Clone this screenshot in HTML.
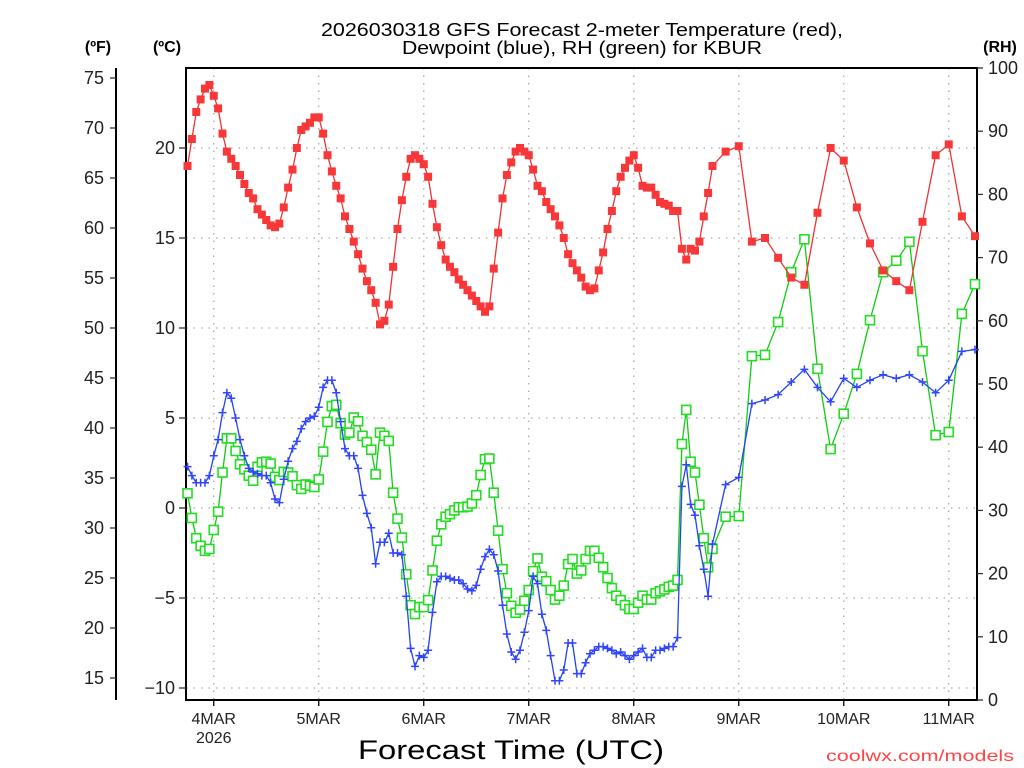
<!DOCTYPE html>
<html><head><meta charset="utf-8"><style>
html,body{margin:0;padding:0;background:#fff;}
svg{display:block;font-family:"Liberation Sans",sans-serif;}
</style></head><body>
<svg id="chart" width="1024" height="768" viewBox="0 0 1024 768" xmlns="http://www.w3.org/2000/svg">
<rect x="0" y="0" width="1024" height="768" fill="#fff"/>
<text x="582" y="36" font-size="18" text-anchor="middle" fill="#000" textLength="522" lengthAdjust="spacingAndGlyphs">2026030318 GFS Forecast 2-meter Temperature (red),</text>
<text x="582" y="54" font-size="18" text-anchor="middle" fill="#000" textLength="360" lengthAdjust="spacingAndGlyphs">Dewpoint (blue), RH (green) for KBUR</text>
<text x="98" y="52" font-size="16" font-weight="bold" text-anchor="middle">(ºF)</text>
<text x="167" y="52" font-size="16" font-weight="bold" text-anchor="middle">(ºC)</text>
<text x="1000" y="52" font-size="16" font-weight="bold" text-anchor="middle">(RH)</text>
<text x="511" y="759" font-size="27" text-anchor="middle" textLength="306" lengthAdjust="spacingAndGlyphs">Forecast Time (UTC)</text>
<text x="1014" y="761" font-size="16" text-anchor="end" fill="#ff4444" textLength="188" lengthAdjust="spacingAndGlyphs">coolwx.com/models</text>
<g id="grid"></g><g id="axes"></g><g id="series"></g>
</svg>
<script>
// hourly data h0..h120 then 3-hourly h123..h180
const tempHourly=[19.0,20.5,22.0,22.7,23.3,23.5,22.9,22.2,20.8,19.8,19.4,19.0,18.5,18.0,17.5,17.2,16.6,16.3,16.0,15.7,15.6,15.8,16.7,17.8,18.8,20.0,21.0,21.2,21.4,21.7,21.7,20.8,19.6,18.7,17.9,17.2,16.2,15.5,14.8,14.1,13.3,12.6,12.1,11.4,10.2,10.4,11.3,13.4,15.5,17.1,18.4,19.4,19.6,19.4,19.1,18.4,16.9,15.6,14.6,13.8,13.4,
13.1,12.7,12.4,12.1,11.8,11.5,11.2,10.9,11.2,13.3,15.3,17.2,18.5,19.2,19.8,20.0,19.8,19.6,18.8,17.9,17.6,17.0,16.6,16.2,15.7,15.0,14.1,13.6,13.2,12.8,12.3,12.1,12.2,13.2,14.2,15.5,16.5,17.6,18.4,18.9,19.3,19.6,18.9,17.9,17.8,17.8,17.4,17.0,16.9,16.8,16.5,16.5,14.4,13.8,14.4,14.3,14.8,16.2,17.5,19.0];
const temp3h=[19.8,20.1,14.8,15.0,13.9,12.8,12.4,16.4,20.0,19.3,16.7,14.7,13.2,12.6,12.1,15.9,19.6,20.2,16.2,15.1];
const dewHourly=[2.3,1.8,1.4,1.4,1.4,1.8,2.9,3.8,5.3,6.4,6.1,5.0,3.8,2.9,2.2,2.0,1.9,1.8,1.8,1.4,0.5,0.3,1.6,2.6,3.3,3.7,4.4,4.8,5.0,5.1,5.6,6.7,7.1,7.1,6.4,4.8,3.3,2.9,2.9,2.2,0.7,-0.3,-1.1,-3.1,-1.9,-1.9,-1.4,-2.5,-2.5,-2.6,-4.9,-7.8,-8.8,-8.2,-8.3,-7.9,-5.8,-4.1,-3.8,-3.8,-3.9,
-4.0,-4.0,-4.2,-4.5,-4.6,-4.3,-3.4,-2.7,-2.3,-2.6,-3.5,-5.4,-7.0,-8.0,-8.4,-7.9,-6.9,-5.7,-3.8,-4.2,-5.9,-6.8,-8.2,-9.6,-9.6,-9.0,-7.5,-7.5,-9.2,-9.2,-8.6,-8.1,-7.9,-7.7,-7.7,-7.8,-7.9,-8.1,-8.0,-8.2,-8.4,-8.2,-8.0,-7.8,-8.3,-8.3,-7.9,-7.9,-7.8,-7.7,-7.7,-7.2,1.2,2.4,0.2,-0.4,-2.1,-3.4,-4.9,-2.0];
const dew3h=[1.3,1.7,5.8,6.0,6.3,7.0,7.7,6.7,5.9,7.2,6.7,7.1,7.4,7.2,7.4,7.0,6.4,7.1,8.7,8.8];
const rhHourly=[32.7,28.8,25.6,24.4,23.6,23.9,26.9,29.8,36.0,41.4,41.4,39.4,37.3,36.5,35.5,34.7,36.9,37.6,37.7,37.4,35.3,34.8,36.1,36.0,35.4,34.0,33.4,34.1,33.9,33.7,34.9,39.3,44.0,46.5,46.7,43.8,42.0,42.3,44.7,44.1,41.8,40.8,39.6,35.7,42.3,41.8,41.0,32.8,28.7,25.7,19.9,15.0,13.6,14.7,14.7,15.8,20.5,25.2,27.8,29.0,29.4,
30.0,30.5,30.5,30.6,31.1,32.4,35.6,38.1,38.2,32.8,26.8,20.7,16.9,14.9,13.8,14.3,15.7,17.4,20.4,22.4,19.5,18.8,17.4,15.9,16.5,18.1,21.5,22.3,20.0,20.5,22.3,23.6,23.6,22.5,21.0,19.3,17.7,16.5,15.8,15.0,14.4,14.4,15.4,16.5,15.9,15.9,16.9,17.2,17.5,17.9,18.1,19.0,40.5,45.9,37.7,36.0,30.9,25.6,21.0,23.9];
const rh3h=[29.0,29.1,54.4,54.6,59.8,67.7,72.9,52.4,39.7,45.3,51.6,60.1,67.7,69.5,72.5,55.2,41.9,42.4,61.1,65.8];
const dayLabels=["4MAR","5MAR","6MAR","7MAR","8MAR","9MAR","10MAR","11MAR"];
const cTicks=[20,15,10,5,0,-5,-10];
const fTicks=[75,70,65,60,55,50,45,40,35,30,25,20,15];
const rhTicks=[100,90,80,70,60,50,40,30,20,10,0];

const NS="http://www.w3.org/2000/svg";
const L=186,R=977,T=68,B=700;
const xH=h=>187.5+h*4.375;            // forecast hour -> px
const yC=c=>508-c*18;                  // Celsius -> px
const yF=f=>yC((f-32)*5/9);
const yRH=r=>B-r*6.32;
function mk(tag,attrs,parent){const e=document.createElementNS(NS,tag);for(const k in attrs)e.setAttribute(k,attrs[k]);parent.appendChild(e);return e;}
const grid=document.getElementById('grid'),axes=document.getElementById('axes'),ser=document.getElementById('series');
function hours(hourly,three){const pts=[];hourly.forEach((v,i)=>pts.push([i,v]));three.forEach((v,i)=>pts.push([123+3*i,v]));return pts;}

// grid
cTicks.forEach(c=>{const g=mk('line',{x1:L,x2:R,y1:yC(c),y2:yC(c),stroke:'#aaa','stroke-width':1.3,'stroke-dasharray':'1.5 6'},grid);

});
dayLabels.forEach((d,i)=>{const x=xH(6+24*i);const g=mk('line',{x1:x,x2:x,y1:T,y2:B,stroke:'#aaa','stroke-width':1.3,'stroke-dasharray':'1.5 6'},grid);


const tk=mk('line',{x1:x,x2:x,y1:B,y2:B+6,stroke:'#000','stroke-width':1.3},axes);


const t=mk('text',{x:x,y:724,'font-size':16,'text-anchor':'middle',fill:'#222'},axes);t.textContent=d;

});
const yr=mk('text',{x:xH(6),y:743,'font-size':16,'text-anchor':'middle',fill:'#222'},axes);yr.textContent="2026";



// frame
const fr=mk('rect',{x:L,y:T,width:R-L,height:B-T,fill:'none',stroke:'#000','stroke-width':2},axes);


// C ticks
cTicks.forEach(c=>{const y=yC(c);const tk=mk('line',{x1:L-7,x2:L,y1:y,y2:y,stroke:'#333','stroke-width':1.3},axes);


const t=mk('text',{x:175,y:y+6,'font-size':18,'text-anchor':'end',fill:'#222'},axes);t.textContent=c<0?'\u2212'+(-c):String(c);

});
// F axis
const fa=mk('line',{x1:116,x2:116,y1:T,y2:B,stroke:'#000','stroke-width':2},axes);


fTicks.forEach(f=>{const y=yF(f);const tk=mk('line',{x1:110,x2:116,y1:y,y2:y,stroke:'#333','stroke-width':1.3},axes);


const t=mk('text',{x:104,y:y+6,'font-size':18,'text-anchor':'end',fill:'#222'},axes);t.textContent=String(f);

});
// RH ticks
rhTicks.forEach(r=>{const y=yRH(r);const tk=mk('line',{x1:R,x2:R+6,y1:y,y2:y,stroke:'#333','stroke-width':1.3},axes);


const t=mk('text',{x:988,y:y+6,'font-size':18,'text-anchor':'start',fill:'#222'},axes);t.textContent=String(r);

});

// series
function line(pts,yf,color,name){const p=mk('polyline',{points:pts.map(q=>xH(q[0]).toFixed(1)+','+yf(q[1]).toFixed(1)).join(' '),fill:'none',stroke:color,'stroke-width':1.3},ser);

}
const tPts=hours(tempHourly,temp3h),dPts=hours(dewHourly,dew3h),rPts=hours(rhHourly,rh3h);
line(rPts,yRH,'#11cc11','rh-line');
rPts.forEach(q=>{const m=mk('rect',{x:xH(q[0])-4.5,y:yRH(q[1])-4.5,width:9,height:9,fill:'#fff',stroke:'#22dd22','stroke-width':1.6},ser);

});
line(dPts,yC,'#2244ee','dewpoint-line');
dPts.forEach(q=>{const x=xH(q[0]),y=yC(q[1]);const m=mk('path',{d:`M${x-4},${y}H${x+4}M${x},${y-4}V${y+4}`,stroke:'#3344ff','stroke-width':1.5},ser);

});
line(tPts,yC,'#ee3333','temperature-line');
tPts.forEach(q=>{const m=mk('rect',{x:xH(q[0])-4,y:yC(q[1])-4,width:8,height:8,fill:'#f83838'},ser);

});
</script>
</body></html>
